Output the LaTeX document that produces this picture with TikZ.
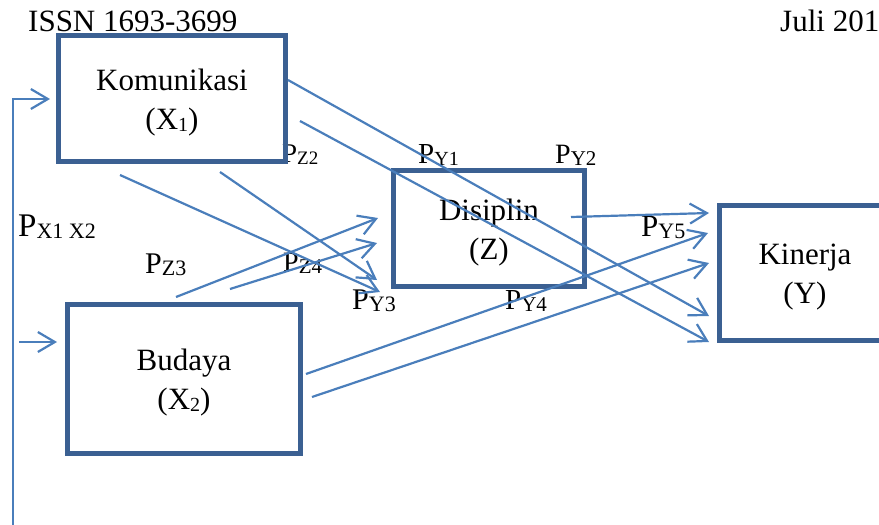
\documentclass[tikz,border=0pt]{standalone}
\usepackage{fontspec}
\setmainfont{Liberation Serif}
\usetikzlibrary{arrows.meta}
\definecolor{boxblue}{HTML}{3B6092}
\definecolor{lineblue}{HTML}{4A7EBB}
\newcommand\plab[3]{\fontsize{#1}{#1}\selectfont P\raisebox{-2pt}{\fontsize{#2}{#2}\selectfont #3}}
\newcommand\bsub[1]{\raisebox{-2pt}{\fontsize{20}{20}\selectfont #1}}
\tikzset{
  vbox/.style={draw=boxblue, line width=5pt, rectangle, inner sep=0pt},
  vtext/.style={inner sep=0pt, align=center, yshift=-4pt, font=\fontsize{31}{39}\selectfont},
  conn/.style={draw=lineblue, line width=2.2pt, -{Straight Barb[length=17pt,width=20pt,line width=2.2pt]}},
  plabel/.style={anchor=base west, inner sep=0pt},
  head/.style={anchor=base west, inner sep=0pt, font=\fontsize{31}{31}\selectfont}
}
\begin{document}
\begin{tikzpicture}[x=1pt,y=-1pt]
\path[use as bounding box] (0,0) rectangle (879,525);
\clip (0,0) rectangle (879,525);

% header
\node[head] (issn) at (28,31) {ISSN 1693-3699};
\node[head] (juli) at (780,31) {Juli 201};

% labels (behind boxes and lines)
\node[plabel] (pz2) at (282,162) {\plab{27}{19}{Z2}};
\node[plabel] (py1) at (418,163) {\plab{29}{20}{Y1}};
\node[plabel] (py2) at (555,163) {\plab{28}{21}{Y2}};
\node[plabel] (px) at (18,236) {\plab{33}{22}{X1 X2}};
\node[plabel] (pz3) at (145,273) {\plab{30}{22}{Z3}};
\node[plabel] (pz4) at (283,271) {\plab{28}{21}{Z4}};
\node[plabel] (py3) at (352,309) {\plab{30}{22}{Y3}};
\node[plabel] (py4) at (505,309) {\plab{29}{21}{Y4}};
\node[plabel] (py5) at (641,236) {\plab{31}{22}{Y5}};

% boxes
\node[vbox, minimum width=227pt, minimum height=126pt] (K) at (172,98.5) {};
\node[vtext] (Kt) at (K) {Komunikasi\\(X\bsub{1})};
\node[vbox, minimum width=233pt, minimum height=149pt] (B) at (184,379) {};
\node[vtext] (Bt) at (B) {Budaya\\(X\bsub{2})};
\node[vbox, minimum width=191pt, minimum height=116pt] (D) at (489,228.5) {};
\node[vtext] (Dt) at (D) {Disiplin\\(Z)};
\node[vbox, minimum width=171pt, minimum height=135pt] (Y) at (805,273) {};
\node[vtext] (Yt) at (Y) {Kinerja\\(Y)};

% connector end points
\coordinate (lbot) at (13,525);
\coordinate (ktip) at (50,99);
\coordinate (bs) at (19,342);
\coordinate (btip) at (57,342);

\coordinate (a1s) at (288,80);   \coordinate (a1e) at (709,316);
\coordinate (a2s) at (300,121);  \coordinate (a2e) at (709,342);
\coordinate (a3s) at (120,175);  \coordinate (a3e) at (380,292);
\coordinate (a4s) at (220,172);  \coordinate (a4e) at (377,280);
\coordinate (a5s) at (176,297);  \coordinate (a5e) at (378,218);
\coordinate (a6s) at (230,289);  \coordinate (a6e) at (377,243);
\coordinate (a7s) at (571,217);  \coordinate (a7e) at (709,213);
\coordinate (a8s) at (306,374);  \coordinate (a8e) at (708,233);
\coordinate (a9s) at (312,397);  \coordinate (a9e) at (709,263);

% connectors
\draw[conn] (lbot) |- (ktip);
\draw[conn] (bs) -- (btip);
\draw[conn] (a1s) -- (a1e);
\draw[conn] (a2s) -- (a2e);
\draw[conn] (a3s) -- (a3e);
\draw[conn] (a4s) -- (a4e);
\draw[conn] (a5s) -- (a5e);
\draw[conn] (a6s) -- (a6e);
\draw[conn] (a7s) -- (a7e);
\draw[conn] (a8s) -- (a8e);
\draw[conn] (a9s) -- (a9e);
\end{tikzpicture}
\end{document}
